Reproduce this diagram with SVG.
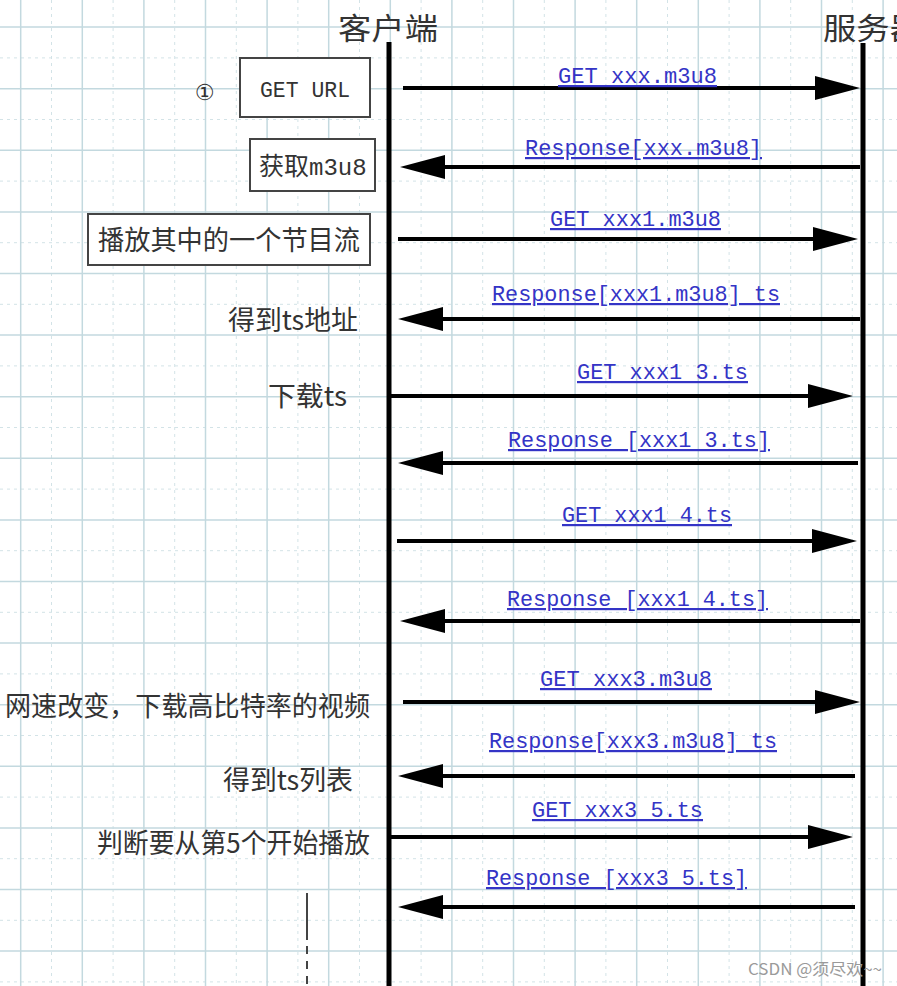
<svg xmlns="http://www.w3.org/2000/svg" width="897" height="986" viewBox="0 0 897 986">
<style>
.major{stroke:#c3d9df;stroke-width:1.5;fill:none}
.minor{stroke:#d3e3e7;stroke-width:1;fill:none;stroke-dasharray:3 4}
.life{stroke:#000;stroke-width:5}
.msg{stroke:#000;stroke-width:4;fill:none}
.r{marker-end:url(#ah)}
.lbl{font-family:"Liberation Mono","DejaVu Sans Mono",monospace;font-size:22px;fill:#3434c6;text-decoration:underline;text-anchor:middle}
.cn{font-family:"Noto Sans CJK SC","Noto Sans",sans-serif;font-size:27px;fill:#333;text-anchor:end}
.hdr{font-family:"Noto Sans CJK SC","Noto Sans",sans-serif;font-size:30px;fill:#333}
.box{fill:#fff;stroke:#444;stroke-width:2}
.mono{font-family:"Liberation Mono","DejaVu Sans Mono",monospace;fill:#333}
</style>
<defs>
<marker id="ah" markerUnits="userSpaceOnUse" markerWidth="46" markerHeight="26" refX="35" refY="12" orient="auto">
<path d="M0,0 L45,12 L0,24 z" fill="#000"/>
</marker>
</defs>
<rect width="897" height="986" fill="#fff"/>
<g id="grid">
<path class="minor" d="M51.5,0V986M113.1,0V986M174.7,0V986M236.3,0V986M297.9,0V986M359.5,0V986M421.1,0V986M482.7,0V986M544.3,0V986M605.9,0V986M667.5,0V986M729.1,0V986M790.7,0V986M852.3,0V986M0,57.9H897M0,119.5H897M0,181.1H897M0,242.7H897M0,304.3H897M0,365.9H897M0,427.5H897M0,489.1H897M0,550.7H897M0,612.3H897M0,673.9H897M0,735.5H897M0,797.1H897M0,858.7H897M0,920.3H897M0,981.9H897"/>
<path class="major" d="M20.7,0V986M82.3,0V986M143.9,0V986M205.5,0V986M267.1,0V986M328.7,0V986M390.3,0V986M451.9,0V986M513.5,0V986M575.1,0V986M636.7,0V986M698.3,0V986M759.9,0V986M821.5,0V986M883.1,0V986M0,27.1H897M0,88.7H897M0,150.3H897M0,211.9H897M0,273.5H897M0,335.1H897M0,396.7H897M0,458.3H897M0,519.9H897M0,581.5H897M0,643.1H897M0,704.7H897M0,766.3H897M0,827.9H897M0,889.5H897M0,951.1H897"/>
</g>
<g id="client">
<text class="hdr" x="338" y="39" textLength="100" lengthAdjust="spacingAndGlyphs">客户端</text>
<line class="life" x1="389" y1="42" x2="389" y2="986"/>
</g>
<g id="server">
<text class="hdr" x="823" y="39" textLength="100" lengthAdjust="spacingAndGlyphs">服务器</text>
<line class="life" x1="863" y1="43" x2="863" y2="986"/>
</g>
<g id="note-step1">
<text x="204.5" y="100" font-family="DejaVu Sans,sans-serif" font-size="22" fill="#333" text-anchor="middle">①</text>
</g>
<g id="box-get-url">
<rect class="box" x="240" y="58" width="130" height="59"/>
<text class="mono" x="260" y="97" font-size="21.5" textLength="90" lengthAdjust="spacingAndGlyphs">GET URL</text>
</g>
<g id="box-get-m3u8">
<rect class="box" x="250" y="139" width="125" height="52"/>
<text x="259" y="175" fill="#333" font-size="25"><tspan font-family="Noto Sans CJK SC,sans-serif">获取</tspan><tspan class="mono" font-size="24">m3u8</tspan></text>
</g>
<g id="box-play">
<rect class="box" x="88" y="214" width="282" height="51"/>
<text x="98" y="250" font-family="Noto Sans CJK SC,sans-serif" font-size="27" fill="#333" textLength="262" lengthAdjust="spacingAndGlyphs">播放其中的一个节目流</text>
</g>
<g id="note-ts-addr"><text class="cn" x="358" y="330" textLength="130" lengthAdjust="spacingAndGlyphs">得到ts地址</text></g>
<g id="note-download"><text class="cn" x="347" y="406" textLength="79" lengthAdjust="spacingAndGlyphs">下载ts</text></g>
<g id="note-bitrate"><text class="cn" x="370" y="716" textLength="365" lengthAdjust="spacingAndGlyphs">网速改变，下载高比特率的视频</text></g>
<g id="note-ts-list"><text class="cn" x="353" y="790" textLength="130" lengthAdjust="spacingAndGlyphs">得到ts列表</text></g>
<g id="note-start5"><text class="cn" x="370" y="853" textLength="273" lengthAdjust="spacingAndGlyphs">判断要从第5个开始播放</text></g>
<g id="continuation">
<line x1="307" y1="893" x2="307" y2="940" stroke="#444" stroke-width="2"/>
<line x1="307" y1="946" x2="307" y2="986" stroke="#444" stroke-width="2" stroke-dasharray="8 7"/>
</g>
<g id="connectors">
<line class="msg r" x1="403" y1="88" x2="850" y2="88"/>
<line class="msg r" x1="860" y1="167" x2="410" y2="167"/>
<line class="msg r" x1="398" y1="239" x2="848" y2="239"/>
<line class="msg r" x1="860" y1="319" x2="408" y2="319"/>
<line class="msg r" x1="390" y1="396" x2="843" y2="396"/>
<line class="msg r" x1="858" y1="463" x2="408" y2="463"/>
<line class="msg r" x1="397" y1="541" x2="847" y2="541"/>
<line class="msg r" x1="860" y1="621" x2="410" y2="621"/>
<line class="msg r" x1="403" y1="702" x2="850" y2="702"/>
<line class="msg r" x1="855" y1="776" x2="408" y2="776"/>
<line class="msg r" x1="390" y1="837" x2="843" y2="837"/>
<line class="msg r" x1="855" y1="907" x2="408" y2="907"/>
<text class="lbl" x="637.5" y="83" textLength="159" lengthAdjust="spacingAndGlyphs">GET xxx.m3u8</text>
<text class="lbl" x="643.5" y="155" textLength="237" lengthAdjust="spacingAndGlyphs">Response[xxx.m3u8]</text>
<text class="lbl" x="635.5" y="226" textLength="171" lengthAdjust="spacingAndGlyphs">GET xxx1.m3u8</text>
<text class="lbl" x="636" y="301" textLength="288" lengthAdjust="spacingAndGlyphs">Response[xxx1.m3u8] ts</text>
<text class="lbl" x="662.5" y="379" textLength="171" lengthAdjust="spacingAndGlyphs">GET xxx1 3.ts</text>
<text class="lbl" x="639" y="447" textLength="262" lengthAdjust="spacingAndGlyphs">Response [xxx1 3.ts]</text>
<text class="lbl" x="647" y="522" textLength="170" lengthAdjust="spacingAndGlyphs">GET xxx1 4.ts</text>
<text class="lbl" x="637.5" y="606" textLength="261" lengthAdjust="spacingAndGlyphs">Response [xxx1 4.ts]</text>
<text class="lbl" x="626" y="686" textLength="172" lengthAdjust="spacingAndGlyphs">GET xxx3.m3u8</text>
<text class="lbl" x="633" y="748" textLength="288" lengthAdjust="spacingAndGlyphs">Response[xxx3.m3u8] ts</text>
<text class="lbl" x="617.5" y="817" textLength="171" lengthAdjust="spacingAndGlyphs">GET xxx3 5.ts</text>
<text class="lbl" x="616.5" y="885" textLength="261" lengthAdjust="spacingAndGlyphs">Response [xxx3 5.ts]</text>
</g>
<g id="watermark">
<text x="748" y="975" font-family="Noto Sans CJK SC,sans-serif" font-size="16" fill="#9a9a9a" textLength="134" lengthAdjust="spacingAndGlyphs">CSDN @须尽欢~~</text>
</g>
</svg>
